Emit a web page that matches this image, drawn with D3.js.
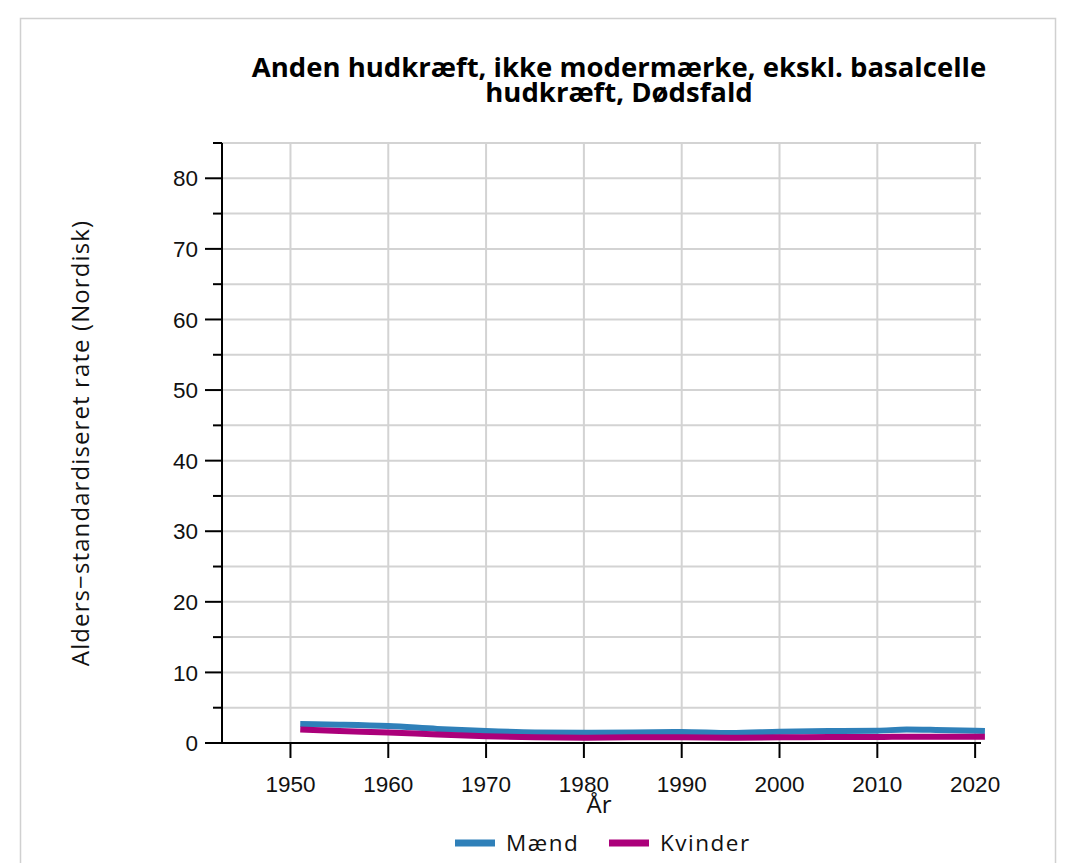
<!DOCTYPE html>
<html><head><meta charset="utf-8">
<script src="https://cdn.jsdelivr.net/npm/d3@7"></script>
<style>
body{margin:0;background:#fff;}
svg{display:block;font-family:"Liberation Sans",Arial,sans-serif;}
</style></head><body>
<svg id="c" width="1072" height="863"></svg>
<script>
const titleLines = ["Anden hudkræft, ikke modermærke, ekskl. basalcelle","hudkræft, Dødsfald"];
const years = [1951,1955,1960,1965,1970,1975,1980,1985,1990,1995,2000,2005,2010,2013,2016,2021];
const maend = [2.7,2.6,2.4,2.0,1.7,1.5,1.45,1.5,1.55,1.4,1.6,1.7,1.75,1.9,1.85,1.7];
const kvinder = [1.9,1.7,1.5,1.2,0.95,0.8,0.75,0.8,0.8,0.75,0.8,0.85,0.85,0.9,0.9,0.9];
const xTicks = [1950,1960,1970,1980,1990,2000,2010,2020];
const yTicks = [0,5,10,15,20,25,30,35,40,45,50,55,60,65,70,75,80,85];
const seriesNames = ["Mænd","Kvinder"];
const colors = ["#2f80b9","#ab007a"];

const svg = d3.select("#c");
svg.append("rect").attr("x",20.5).attr("y",18.5).attr("width",1035).attr("height",900)
  .attr("fill","#fff").attr("stroke","#d0d0d0").attr("stroke-width",1.5);

const L=222,R=981,T=143,B=743;
const x = d3.scaleLinear().domain([1943,2020.6]).range([L,R]);
const y = d3.scaleLinear().domain([0,85]).range([B,T]);

// grid
svg.append("g").selectAll("line").data(yTicks.filter(d=>d>0)).join("line")
  .attr("x1",L).attr("x2",R).attr("y1",d=>y(d)).attr("y2",d=>y(d))
  .attr("stroke","#d3d3d3").attr("stroke-width",2);
svg.append("g").selectAll("line").data(xTicks).join("line")
  .attr("x1",d=>x(d)).attr("x2",d=>x(d)).attr("y1",T).attr("y2",B)
  .attr("stroke","#d3d3d3").attr("stroke-width",2);

// y axis
const ya = svg.append("g").attr("transform",`translate(${L},0)`);
ya.append("line").attr("x1",0).attr("x2",0).attr("y1",T).attr("y2",B).attr("stroke","#000").attr("stroke-width",2);
ya.selectAll("line.t").data(yTicks).join("line").attr("class","t")
  .attr("x1",d=>d%10===0?-17:-9).attr("x2",0).attr("y1",d=>y(d)).attr("y2",d=>y(d))
  .attr("stroke","#000").attr("stroke-width",2);
ya.selectAll("text").data(yTicks.filter(d=>d%10===0)).join("text")
  .attr("x",-24).attr("y",d=>y(d)).attr("dy","0.36em").attr("text-anchor","end")
  .attr("font-size",22.5).attr("fill","#111").text(d=>d);

// x axis
const xa = svg.append("g").attr("transform",`translate(0,${B})`);
xa.append("line").attr("x1",205).attr("x2",R).attr("stroke","#000").attr("stroke-width",2);
xa.selectAll("line.t").data(xTicks).join("line").attr("class","t")
  .attr("x1",d=>x(d)).attr("x2",d=>x(d)).attr("y1",0).attr("y2",15)
  .attr("stroke","#000").attr("stroke-width",2);
xa.selectAll("text").data(xTicks).join("text")
  .attr("x",d=>x(d)).attr("y",49).attr("text-anchor","middle")
  .attr("font-size",22.5).attr("fill","#111").text(d=>d);

// lines
const line = d3.line().x(d=>x(d[0])).y(d=>y(d[1])).curve(d3.curveMonotoneX);
[maend,kvinder].forEach((vals,i)=>{
  svg.append("path").datum(years.map((yr,j)=>[yr,vals[j]]))
    .attr("d",line).attr("fill","none").attr("stroke",colors[i]).attr("stroke-width",6);
});

// title
svg.append("text").attr("x",619).attr("y",77).attr("text-anchor","middle")
  .attr("font-family","'Open Sans', sans-serif").attr("font-weight","bold").attr("font-size",27.5).attr("fill","#000")
  .selectAll("tspan").data(titleLines).join("tspan")
  .attr("x",619).attr("dy",(d,i)=>i===0?0:25).text(d=>d);

// axis titles
svg.append("text").attr("transform",`translate(89,${(T+B)/2}) rotate(-90)`)
  .attr("text-anchor","middle").attr("font-family","'Open Sans', sans-serif").attr("font-size",24)
  .attr("letter-spacing",1.1).attr("fill","#111")
  .text("Alders\u2212standardiseret rate (Nordisk)");
svg.append("text").attr("x",599).attr("y",813).attr("text-anchor","middle")
  .attr("font-family","'Open Sans', sans-serif").attr("font-size",24).attr("fill","#111").text("År");

// legend
const lg = svg.append("g");
const lx = [455,609];
seriesNames.forEach((n,i)=>{
  lg.append("line").attr("x1",lx[i]).attr("x2",lx[i]+40).attr("y1",843).attr("y2",843)
    .attr("stroke",colors[i]).attr("stroke-width",7);
  lg.append("text").attr("x",lx[i]+51).attr("y",851).attr("font-size",22.5)
    .attr("font-family","'Open Sans', sans-serif")
    .attr("letter-spacing",1.5).attr("fill","#111").text(n);
});
</script>
</body></html>
